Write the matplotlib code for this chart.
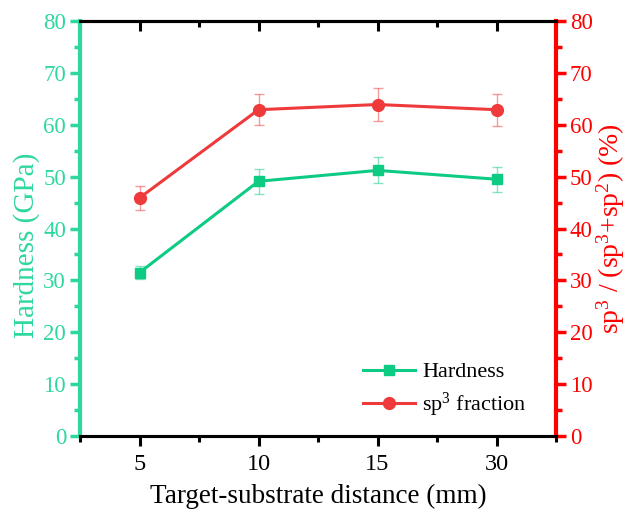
import matplotlib
matplotlib.use("Agg")
import matplotlib.pyplot as plt
from matplotlib.ticker import MultipleLocator, FixedLocator
from matplotlib.lines import Line2D

plt.rcParams['font.family'] = ['Liberation Serif', 'DejaVu Serif']
plt.rcParams['mathtext.fontset'] = 'custom'
plt.rcParams['mathtext.rm'] = 'Liberation Serif'
plt.rcParams['mathtext.it'] = 'Liberation Serif:italic'

categories = ['5', '10', '15', '30']
hardness = [31.5, 49.1, 51.2, 49.5]
hardness_err = [1.3, 2.4, 2.5, 2.4]
sp3 = [45.9, 62.9, 63.9, 62.9]
sp3_err = [2.3, 3.0, 3.2, 3.1]

green = '#0ECB84'
green_ax = '#2ED89C'
red = '#EE3A3A'
red_ax = '#FF0000'

fig = plt.figure(figsize=(6.31, 5.11), dpi=100)
L, R, T, B = 80, 556, 21, 436
ax = fig.add_axes([L/631, 1-B/511, (R-L)/631, (B-T)/511])
ax2 = ax.twinx()

x = list(range(len(categories)))
l1 = ax.errorbar(x, hardness, yerr=hardness_err, color=green, marker='s', ms=7.5,
                 lw=2.2, ecolor=green, elinewidth=1.0, capsize=3.8, capthick=1.0,
                 zorder=3)
for c in l1[1] + l1[2]:
    c.set_alpha(0.5)
l2 = ax2.errorbar(x, sp3, yerr=sp3_err, color=red, marker='o', ms=8.5,
                  lw=2.2, ecolor=red, elinewidth=1.0, capsize=3.8, capthick=1.0,
                  zorder=3)
for c in l2[1] + l2[2]:
    c.set_alpha(0.5)

ax.set_xlim(-0.5, 3.5)
ax.set_ylim(0, 80)
ax2.set_ylim(0, 80)
ax.set_xticks(x)
ax.set_xticklabels(categories)
minor_x = [-0.5, 0.5, 1.5, 2.5, 3.5]
ax.xaxis.set_minor_locator(FixedLocator(minor_x))
for a in (ax, ax2):
    a.yaxis.set_major_locator(MultipleLocator(10))
    a.yaxis.set_minor_locator(MultipleLocator(5))

for a in (ax, ax2):
    for s in a.spines.values():
        s.set_linewidth(2.2)
        s.set_color('black')
ax2.spines['left'].set_color(green_ax)
ax2.spines['left'].set_linewidth(3)
ax2.spines['right'].set_color(red_ax)
ax2.spines['right'].set_linewidth(3)
ax.spines['left'].set_visible(False)
ax.spines['right'].set_visible(False)

ax.tick_params(axis='x', which='major', direction='out', length=7, width=2.2,
               labelsize=17.5, top=False, pad=6)
ax.tick_params(axis='x', which='minor', direction='out', length=4, width=2.2, top=False)
ax.tick_params(axis='y', which='major', direction='out', length=7, width=2.5,
               color=green_ax, labelcolor=green_ax, labelsize=16.5, pad=3)
ax.tick_params(axis='y', which='minor', direction='out', length=4, width=2.5, color=green_ax)
ax2.tick_params(axis='y', which='major', direction='out', length=7, width=2.5,
                color=red_ax, labelcolor=red_ax, labelsize=16.5, pad=3)
ax2.tick_params(axis='y', which='minor', direction='out', length=4, width=2.5, color=red_ax)

# top ticks pointing inward
sec = ax.secondary_xaxis('top')
sec.set_xticks(x)
sec.set_xticklabels([])
sec.xaxis.set_minor_locator(FixedLocator(minor_x))
sec.tick_params(axis='x', which='major', direction='in', length=7, width=2.2, labeltop=False)
sec.tick_params(axis='x', which='minor', direction='in', length=4, width=2.2)
sec.spines['top'].set_linewidth(2.2)

ax.set_xlabel('Target-substrate distance (mm)', fontsize=19.5, labelpad=6)
ax.set_ylabel('Hardness (GPa)', fontsize=21, color=green_ax)
ax.yaxis.set_label_coords(-0.085, 0.46)
ax2.set_ylabel('sp$^3$ / (sp$^3$+sp$^2$) (%)', fontsize=20, color=red_ax, labelpad=1)

handles = [Line2D([], [], color=green, marker='s', ms=7.5, lw=2.2),
           Line2D([], [], color=red, marker='o', ms=8.5, lw=2.2)]
leg = ax.legend(handles, ['Hardness', 'sp$^3$ fraction'], loc='lower left',
                bbox_to_anchor=(0.595, 0.04), frameon=False, fontsize=16,
                handlelength=2.35, handletextpad=0.3, labelspacing=0.4,
                borderpad=0, borderaxespad=0)

fig.savefig('out.png', dpi=100)
